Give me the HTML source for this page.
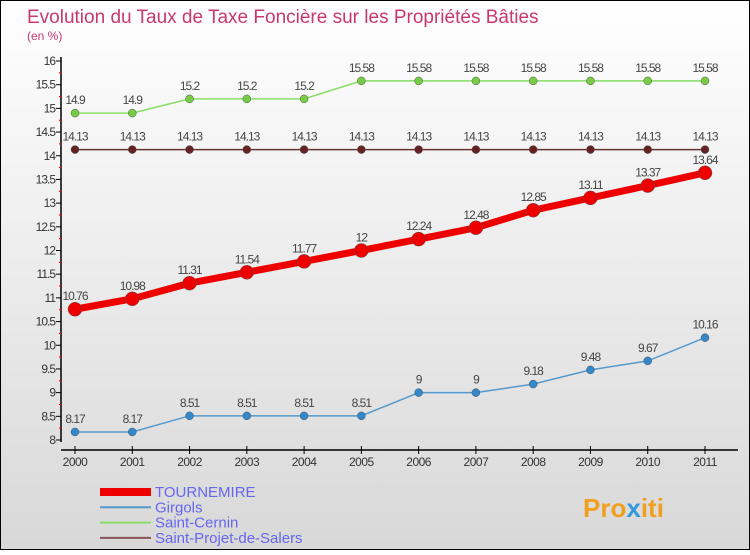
<!DOCTYPE html>
<html><head><meta charset="utf-8"><style>
body{margin:0}
#c{width:750px;height:550px;position:relative;font-family:"Liberation Sans",sans-serif}
</style></head><body>
<div id="c">
<svg width="750" height="550" id="svg">
<defs><linearGradient id="bg" x1="0" y1="0" x2="0" y2="1"><stop offset="0" stop-color="#ffffff"/><stop offset="1" stop-color="#d8d8d8"/></linearGradient></defs>
<rect x="0.5" y="0.5" width="749" height="549" fill="url(#bg)" stroke="#000"/>
<text x="27" y="23" font-size="19" fill="#c8386e">Evolution du Taux de Taxe Foncière sur les Propriétés Bâties</text>
<text x="27" y="40" font-size="12" fill="#c8386e">(en %)</text>
<g id="axes"></g><g id="series"></g><g id="legend"></g>
<text x="583" y="517" font-size="26" font-weight="bold" fill="#f0a020">Pro<tspan fill="#3399dd">x</tspan>iti</text>
</svg></div>
<script>
const years=[2000,2001,2002,2003,2004,2005,2006,2007,2008,2009,2010,2011];
const tournemire=[10.76,10.98,11.31,11.54,11.77,12,12.24,12.48,12.85,13.11,13.37,13.64];
const girgols=[8.17,8.17,8.51,8.51,8.51,8.51,9,9,9.18,9.48,9.67,10.16];
const saintCernin=[14.9,14.9,15.2,15.2,15.2,15.58,15.58,15.58,15.58,15.58,15.58,15.58];
const saintProjet=[14.13,14.13,14.13,14.13,14.13,14.13,14.13,14.13,14.13,14.13,14.13,14.13];
const yTicks=[8,8.5,9,9.5,10,10.5,11,11.5,12,12.5,13,13.5,14,14.5,15,15.5,16];
const NS="http://www.w3.org/2000/svg";
function X(i){return 75+i*(705-75)/11;}
function Y(v){return 440-(v-8)*(440-61)/8;}
function mk(t,a,p){const e=document.createElementNS(NS,t);for(const k in a)e.setAttribute(k,a[k]);p.appendChild(e);return e;}
const ax=document.getElementById('axes');
let l=mk('line',{x1:61,y1:57,x2:61,y2:442,stroke:'#000','stroke-width':1.5},ax);


l=mk('line',{x1:61,y1:450,x2:738,y2:450,stroke:'#000','stroke-width':1.5},ax);


yTicks.forEach(v=>{const y=Y(v);
 mk('line',{x1:56,y1:y,x2:61,y2:y,stroke:'#000'},ax);
 const t=mk('text',{x:55,y:y+4,'font-size':12,fill:'#333','text-anchor':'end','letter-spacing':'-1'},ax);t.textContent=String(v);
 
 
 if(v<16)mk('line',{x1:59,y1:Y(v+0.25),x2:62,y2:Y(v+0.25),stroke:'#e00'},ax);
});
years.forEach((yr,i)=>{const x=X(i);
 mk('line',{x1:x,y1:446,x2:x,y2:454,stroke:'#000'},ax);
 const t=mk('text',{x:x,y:466,'font-size':12,fill:'#333','text-anchor':'middle','letter-spacing':'-0.5'},ax);t.textContent=yr;
 
 
});
const se=document.getElementById('series');
function draw(vals,color,lw,r,name,dotColor){
 const g=mk('g',{},se);
 
 
 mk('polyline',{points:vals.map((v,i)=>X(i)+','+Y(v)).join(' '),fill:'none',stroke:color,'stroke-width':lw},g);
 vals.forEach((v,i)=>{
  const c=mk('circle',{cx:X(i),cy:Y(v),r:r,fill:dotColor,stroke:'#555','stroke-width':0.5},g);
  
  
  const t=mk('text',{x:X(i),y:Y(v)-9,'font-size':12,fill:'#444','text-anchor':'middle','letter-spacing':'-1'},g);t.textContent=String(v);
  
  
 });
}
draw(saintCernin,'#88dd66',1.5,4,'saint-cernin','#77cc44');
draw(saintProjet,'#663333',1.5,4,'saint-projet','#662222');
draw(girgols,'#5599cc',1.5,4,'girgols','#3388cc');
draw(tournemire,'#ee0000',7,7,'tournemire','#ee0000');
const lg=document.getElementById('legend');
const items=[['TOURNEMIRE','#ee0000',8],['Girgols','#5599cc',2],['Saint-Cernin','#88dd66',2],['Saint-Projet-de-Salers','#885555',2]];
items.forEach((it,i)=>{const y=492+i*15.3;
 const g=mk('g',{},lg);
 
 
 mk('line',{x1:100,y1:y,x2:151,y2:y,stroke:it[1],'stroke-width':it[2]},g);
 const t=mk('text',{x:155,y:y+5,'font-size':15,fill:'#6666ee'},g);t.textContent=it[0];
});
</script>
</body></html>
